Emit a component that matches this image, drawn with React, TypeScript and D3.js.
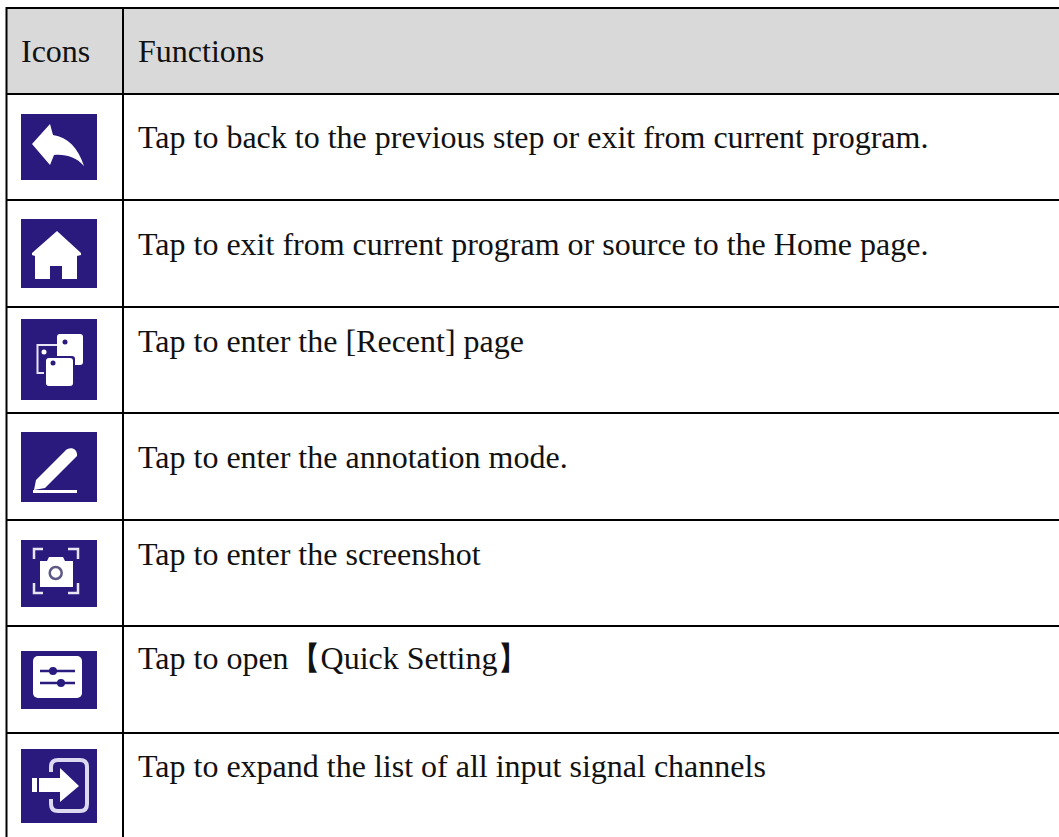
import React from "react";
import * as d3 from "d3";

const headers = ["Icons", "Functions"];
const functions = [
  "Tap to back to the previous step or exit from current program.",
  "Tap to exit from current program or source to the Home page.",
  "Tap to enter the [Recent] page",
  "Tap to enter the annotation mode.",
  "Tap to enter the screenshot",
  "Tap to open【Quick Setting】",
  "Tap to expand the list of all input signal channels",
];
const rowLines = [8, 94, 200, 307, 413, 520, 626, 733];
const colLines = [6.5, 123];
const iconTops = [114, 219, 319, 432, 540, 651, 749];
const iconBottoms = [180, 288, 400, 502, 607, 709, 823];
const textBaselines = [148, 255, 352, 468, 565, 669, 777];

const W = 1059;
const H = 837;
const NAVY = "#2a1a7e";
const FONT = "'Liberation Serif','Times New Roman',serif";

const Icon = ({ i }: { i: number }) => {
  const p = { fill: "#fff" };
  if (i === 0) return <path {...p} d="M32 144 L50 124 L53 135 C68 137 78 148 84 166 C76 157 66 154 54 155 L50 165 Z" />;
  if (i === 1) return <path {...p} d="M57 231 L81 253 L81 255 L77 256 L77 279 L62 279 L62 266 L50 266 L50 279 L35 279 L35 256 L32 255 L32 253 Z" />;
  if (i === 2) return (
    <g>
      <rect x={37.5} y={345} width={23} height={28} fill="none" stroke="#e6e4f5" strokeWidth={2} />
      <rect x={57} y={334} width={26} height={31} rx={3} {...p} />
      <rect x={44} y={356} width={31} height={32} rx={3} fill={NAVY} />
      <rect x={46} y={358} width={27} height={28} rx={3} {...p} />
      <circle cx={65} cy={342} r={2.5} fill={NAVY} />
      <circle cx={53} cy={363} r={2.5} fill={NAVY} />
      <circle cx={44} cy={352} r={2.5} {...p} />
    </g>
  );
  if (i === 3) return (
    <g>
      <path {...p} d="M34 490 L36 480 L65 451 C69 446 78 448 77 456 L45 488 Z" />
      <rect x={33} y={490} width={44} height={3} {...p} />
    </g>
  );
  if (i === 4) return (
    <g>
      <path fill="none" stroke="#e8e6f5" strokeWidth={2.5} d="M34 559 V549 H43 M68 549 H78 V559 M34 583 V593 H43 M68 593 H78 V583" />
      <path {...p} d="M40 561 H47 L49 557 H63 L65 561 H73 V587 H40 Z" />
      <circle cx={55.7} cy={573} r={6} fill="none" stroke="#5d5885" strokeWidth={2.5} />
    </g>
  );
  if (i === 5) return (
    <g>
      <rect x={33} y={656} width={49} height={42} rx={5} {...p} />
      <path stroke={NAVY} strokeWidth={2.5} d="M40 671 H75 M40 683 H75" />
      <circle cx={53} cy={671} r={4} fill={NAVY} />
      <circle cx={61} cy={683} r={4} fill={NAVY} />
    </g>
  );
  return (
    <g>
      <path fill="none" stroke="#dcd9f0" strokeWidth={4} d="M51 772 V767 Q51 760 58 760 H80 Q87 760 87 767 V804 Q87 811 80 811 H58 Q51 811 51 804 V799" />
      <path {...p} d="M32 778 H37 V792 H32 Z M39 778 H60 V768 L79 786 L60 802 V792 H39 Z" />
    </g>
  );
};

export default function App() {
  const rows = d3.range(functions.length);
  return (
    <svg
      width={W}
      height={H}
      style={{ position: "absolute", left: 0, top: 0, background: "#fff" }}
      fontFamily={FONT}
    >
      <defs>
        <filter id="soft" x="-10%" y="-10%" width="120%" height="120%">
          <feGaussianBlur stdDeviation={0.6} />
        </filter>
      </defs>
      <rect x={7} y={8} width={W - 7} height={86} fill="#d9d9d9" />
      <text x={21} y={62} fontSize={32} fill="#111">{headers[0]}</text>
      <text x={138} y={62} fontSize={32} fill="#111">{headers[1]}</text>
      {rows.map((i) => (
        <g key={i}>
          <rect x={21} y={iconTops[i]} width={76} height={iconBottoms[i] - iconTops[i]} fill={NAVY} />
          <g filter="url(#soft)"><Icon i={i} /></g>
          <text x={138} y={textBaselines[i]} fontSize={32} fill="#111">{functions[i]}</text>
        </g>
      ))}
      {rowLines.map((y) => (
        <line key={y} x1={6} x2={W} y1={y} y2={y} stroke="#000" strokeWidth={2} />
      ))}
      {colLines.map((x) => (
        <line key={x} x1={x} x2={x} y1={7} y2={H} stroke="#000" strokeWidth={2} />
      ))}
    </svg>
  );
}
